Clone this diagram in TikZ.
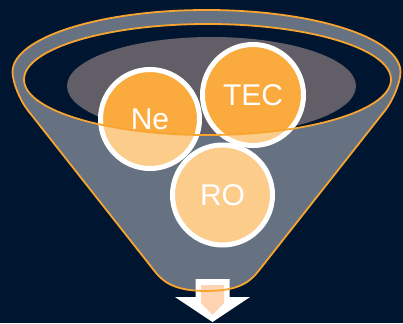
\documentclass[tikz,border=0pt]{standalone}
\usepackage{fontspec}
\setmainfont{Liberation Sans}
\definecolor{navy}{RGB}{0,21,48}
\definecolor{bowl}{RGB}{98,94,103}
\definecolor{ballorange}{RGB}{251,170,62}
\definecolor{rimorange}{RGB}{247,164,48}
\definecolor{peach}{RGB}{255,212,178}
\tikzset{
  ball/.style={circle, draw=white, line width=5pt, fill=ballorange, inner sep=0pt,
    text=white, font=\fontsize{30}{30}\selectfont},
  rimline/.style={draw=rimorange, line width=1.8pt},
  glass/.style={fill=white, fill opacity=0.4, even odd rule}
}
\begin{document}
\begin{tikzpicture}[x=1pt,y=-1pt]
  \useasboundingbox (0,0) rectangle (403,323);
  \fill[navy] (0,0) rectangle (403,323);

  % outline of the funnel: top rim arc, curved shoulders, sloping sides, rounded spout
  \def\funnelpath{(12.5,72) arc[start angle=180, end angle=0, x radius=194pt, y radius=62pt]
    .. controls (400.5,82) and (393,100.4) .. (385.4,110)
    -- (258.5,271)
    .. controls (249,283.5) and (236,291) .. (206.5,291)
    .. controls (177,291) and (164,283.5) .. (154.5,271)
    -- (27.6,110)
    .. controls (20,100.4) and (12.5,82) .. (12.5,72) -- cycle}
  \def\openingpath{(207.5,79.5) ellipse [x radius=183.5pt, y radius=55.5pt]}

  % contents seen through the opening
  \fill[bowl] (211.5,86) ellipse [x radius=144.5pt, y radius=49pt];

  % the three balls
  \node[ball, minimum size=101pt] (tec) at (253,95) {TEC};
  \node[ball, minimum size=99pt] (ne) at (150,119) {Ne};
  \node[ball, minimum size=100pt] (ro) at (222.5,195) {RO};

  % translucent funnel wall in front of the balls
  \path[glass] \funnelpath \openingpath;

  % outflow arrow
  \fill[white] (195.5,279) -- (229.5,279) -- (229.5,297) -- (250,297) -- (212.5,322)
    -- (175,297) -- (195.5,297) -- cycle;
  \fill[peach] (201,285) -- (224,285) -- (224,303) -- (212.5,315) -- (201,303) -- cycle;

  % rim and opening outlines
  \path[rimline] \funnelpath;
  \path[rimline] \openingpath;
\end{tikzpicture}
\end{document}
